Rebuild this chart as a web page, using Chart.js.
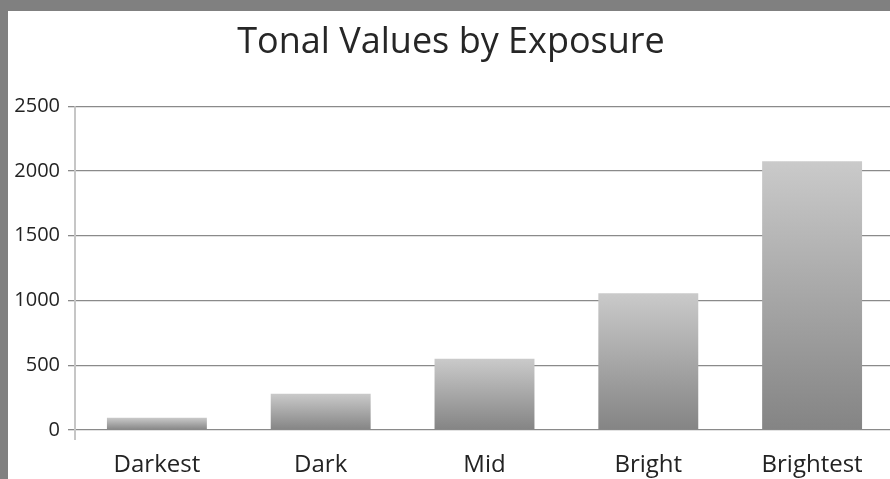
<!DOCTYPE html>
<html>
<head>
<meta charset="utf-8">
<script src="https://cdn.jsdelivr.net/npm/chart.js@4.4.1/dist/chart.umd.min.js"></script>
<style>
  html, body { margin: 0; padding: 0; background: #808080; overflow: hidden; width: 890px; height: 479px; }
  #panel { position: absolute; left: 8px; top: 11px; width: 890px; height: 468px; background: #fff; }
  canvas { display: block; }
</style>
</head>
<body>
<div id="panel"><canvas id="myChart" width="890" height="468"></canvas></div>
<script>
const categories = ["Darkest", "Dark", "Mid", "Bright", "Brightest"];
const tonalValues = [95, 280, 550, 1055, 2075];
const yTicks = [0, 500, 1000, 1500, 2000, 2500];

const textColor = "#232323";
const fontFamily = "'Open Sans', 'DejaVu Sans', sans-serif";

// light grey axis line on the left, running a bit below the zero line
const axisLine = {
  id: "axisLine",
  afterDatasetsDraw(chart) {
    const { ctx, chartArea } = chart;
    ctx.save();
    ctx.strokeStyle = "#c6c6c6";
    ctx.lineWidth = 2;
    ctx.beginPath();
    ctx.moveTo(chartArea.left, chartArea.top);
    ctx.lineTo(chartArea.left, chartArea.bottom + 10);
    ctx.stroke();
    ctx.restore();
  },
};

function barGradient(context) {
  const chart = context.chart;
  const y = chart.scales.y;
  if (!y || context.raw === undefined) return "#a8a8a8";
  const top = y.getPixelForValue(context.raw);
  const base = y.getPixelForValue(0);
  if (!isFinite(top) || !isFinite(base) || top === base) return "#a8a8a8";
  const g = chart.ctx.createLinearGradient(0, top, 0, base);
  g.addColorStop(0, "#cacaca");
  g.addColorStop(1, "#848484");
  return g;
}

const ctx = document.getElementById("myChart").getContext("2d");
const myChart = new Chart(ctx, {
  type: "bar",
  data: {
    labels: categories,
    datasets: [
      {
        label: "Tonal values",
        data: tonalValues,
        backgroundColor: barGradient,
        borderWidth: 0,
        barPercentage: 0.61,
        categoryPercentage: 1,
      },
    ],
  },
  options: {
    responsive: false,
    animation: false,
    layout: { padding: { left: 0, right: 4, top: 0, bottom: 0 } },
    plugins: {
      legend: { display: false },
      tooltip: { enabled: false },
      title: {
        display: true,
        text: "Tonal Values by Exposure",
        color: "#262626",
        font: { family: fontFamily, size: 36, weight: "normal" },
        padding: { top: 10, bottom: 42 },
      },
    },
    scales: {
      x: {
        afterFit(scale) {
          scale.height = 49;
        },
        grid: { display: false, drawTicks: false },
        border: { display: false },
        ticks: {
          color: textColor,
          padding: 21,
          font: { family: fontFamily, size: 24 },
        },
      },
      y: {
        min: 0,
        max: 2500,
        afterBuildTicks(scale) {
          scale.ticks = yTicks.map((v) => ({ value: v }));
        },
        afterFit(scale) {
          scale.width = 67;
        },
        border: { display: false },
        grid: {
          color: "#8a8a8a",
          lineWidth: 1.3,
          tickLength: 7,
        },
        ticks: {
          color: textColor,
          padding: 8,
          font: { family: fontFamily, size: 20 },
          callback: (v) => String(v),
        },
      },
    },
  },
  plugins: [axisLine],
});
</script>
</body>
</html>
